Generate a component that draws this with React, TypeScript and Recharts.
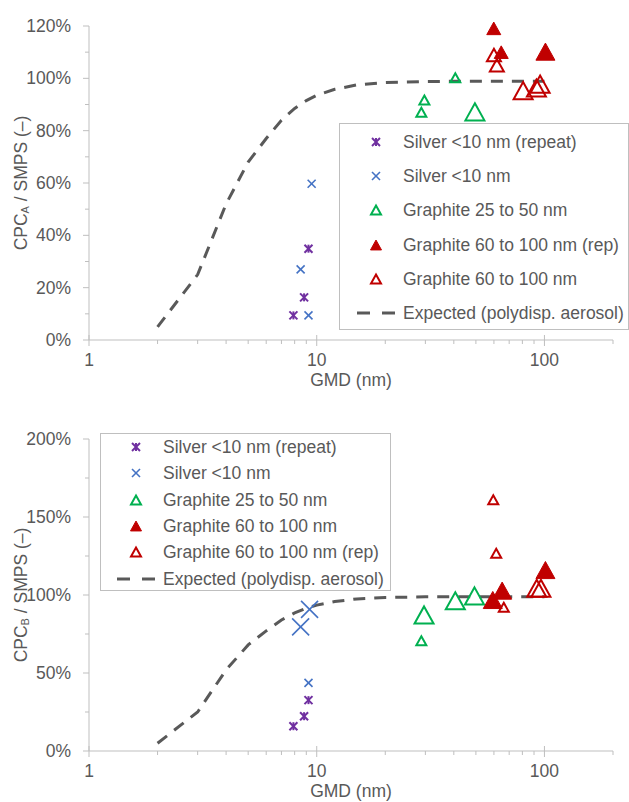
import React from 'react';
import { ScatterChart, Scatter, XAxis, YAxis, Legend, Label } from 'recharts';

const FONT = '"Liberation Sans", Arial, sans-serif';
const TEXT = '#595959';
const AXIS = '#BFBFBF';
const PURPLE = '#7030A0';
const BLUE = '#4472C4';
const GREEN = '#00B050';
const RED = '#C00000';
const GRAY = '#595959';
const FS = 17.5;

// ---- axes ----
const xTicks = [1, 2, 3, 4, 5, 6, 7, 8, 9, 10, 20, 30, 40, 50, 60, 70, 80, 90, 100, 200];
const xMajor = [1, 10, 100];
const yTicksA = [0, 10, 20, 30, 40, 50, 60, 70, 80, 90, 100, 110, 120];
const yMajorA = [0, 20, 40, 60, 80, 100, 120];
const yTicksB = [0, 25, 50, 75, 100, 125, 150, 175, 200];
const yMajorB = [0, 50, 100, 150, 200];

// ---- expected curve (polydisperse aerosol) ----
const expectedCurve = [
  { x: 2, y: 5 }, { x: 3, y: 25 }, { x: 4, y: 52 }, { x: 5, y: 68 }, { x: 6, y: 77 },
  { x: 7, y: 84 }, { x: 8, y: 88.5 }, { x: 9, y: 91.5 }, { x: 10, y: 93.5 }, { x: 12, y: 95.8 },
  { x: 15, y: 97.5 }, { x: 20, y: 98.4 }, { x: 30, y: 98.8 }, { x: 50, y: 98.9 }, { x: 100, y: 98.9 },
];

// ---- top panel: CPC_A / SMPS (z = marker weight class) ----
const silverRepeatA = [{ x: 7.9, y: 9.4, z: 1 }, { x: 8.8, y: 16.3, z: 1 }, { x: 9.2, y: 34.9, z: 1 }];
const silverA = [{ x: 9.5, y: 59.7, z: 1 }, { x: 8.5, y: 27, z: 1 }, { x: 9.2, y: 9.4, z: 1 }];
const graphite2550A = [{ x: 40.6, y: 100.2, z: 1 }, { x: 29.7, y: 91.7, z: 1 }, { x: 28.8, y: 87, z: 1 }, { x: 49.5, y: 87.2, z: 3 }];
const graphite60100RepA = [{ x: 59.9, y: 119.1, z: 2 }, { x: 64.6, y: 110, z: 2 }, { x: 101, y: 110.2, z: 3 }];
const graphite60100A = [{ x: 60, y: 108.9, z: 2 }, { x: 61.8, y: 105, z: 2 }, { x: 80.6, y: 95.3, z: 3 }, { x: 92.2, y: 96.3, z: 3 }, { x: 95.7, y: 97.8, z: 3 }];

// ---- bottom panel: CPC_B / SMPS ----
const silverRepeatB = [{ x: 7.9, y: 15.9, z: 1 }, { x: 8.8, y: 22.3, z: 1 }, { x: 9.2, y: 32.6, z: 1 }];
const silverB = [{ x: 9.2, y: 43.7, z: 1 }, { x: 8.5, y: 79.6, z: 3 }, { x: 9.3, y: 90.8, z: 3 }];
const graphite2550B = [{ x: 28.8, y: 70.7, z: 1 }, { x: 29.6, y: 87.2, z: 3 }, { x: 40.6, y: 96.3, z: 3 }, { x: 49.3, y: 99.4, z: 3 }];
const graphite60100B = [{ x: 59.3, y: 96.8, z: 3 }, { x: 65.2, y: 102.8, z: 3 }, { x: 101, y: 116, z: 3 }];
const graphite60100RepB = [{ x: 59.6, y: 161, z: 1 }, { x: 61.4, y: 126.8, z: 1 }, { x: 66.3, y: 92.1, z: 1 }, { x: 92.5, y: 104.3, z: 3 }, { x: 96.5, y: 104.3, z: 3 }];

const legendNamesA = ['Silver <10 nm (repeat)', 'Silver <10 nm', 'Graphite 25 to 50 nm', 'Graphite 60 to 100 nm (rep)', 'Graphite 60 to 100 nm', 'Expected (polydisp. aerosol)'];
const legendNamesB = ['Silver <10 nm (repeat)', 'Silver <10 nm', 'Graphite 25 to 50 nm', 'Graphite 60 to 100 nm', 'Graphite 60 to 100 nm (rep)', 'Expected (polydisp. aerosol)'];

type Kind = 'star' | 'x' | 'triOpen' | 'triFill' | 'dash';

function drawMarker(kind: Kind, color: string, cx: number, cy: number, w: number) {
  if (kind === 'star') {
    const s = w / 2;
    return (
      <g stroke={color} strokeWidth={2}>
        <line x1={cx - s} y1={cy - s} x2={cx + s} y2={cy + s} />
        <line x1={cx - s} y1={cy + s} x2={cx + s} y2={cy - s} />
        <line x1={cx} y1={cy - s} x2={cx} y2={cy + s} />
      </g>
    );
  }
  if (kind === 'x') {
    const s = w / 2;
    return (
      <g stroke={color} strokeWidth={1.6}>
        <line x1={cx - s} y1={cy - s} x2={cx + s} y2={cy + s} />
        <line x1={cx - s} y1={cy + s} x2={cx + s} y2={cy - s} />
      </g>
    );
  }
  const h = w * 0.9;
  const pts = `${cx},${cy - h / 2} ${cx + w / 2},${cy + h / 2} ${cx - w / 2},${cy + h / 2}`;
  if (kind === 'triFill') {
    return <polygon points={pts} fill={color} stroke={color} strokeWidth={1} strokeLinejoin="miter" />;
  }
  return <polygon points={pts} fill="none" stroke={color} strokeWidth={2} strokeLinejoin="miter" />;
}

const sizeFor = (kind: Kind, z: number) => {
  if (kind === 'star') return 8;
  if (kind === 'x') return z >= 3 ? 17 : 8;
  return z === 1 ? 10 : z === 2 ? 14 : 19;
};

const shapeOf = (kind: Kind, color: string) => (p: any) =>
  drawMarker(kind, color, p.cx, p.cy, sizeFor(kind, p.payload?.z ?? 1));

const XTick = (p: any) => {
  const v = p.payload.value;
  const major = xMajor.includes(v);
  return (
    <g>
      <line x1={p.x} x2={p.x} y1={major ? p.y - 5 : p.y} y2={p.y + (major ? 6 : 4)} stroke={AXIS} />
      {major && (
        <text x={p.x} y={p.y + 20} textAnchor="middle" dominantBaseline="central" fill={TEXT} fontSize={FS} fontFamily={FONT}>
          {v}
        </text>
      )}
    </g>
  );
};

const makeYTick = (majors: number[]) => (p: any) => {
  const v = p.payload.value;
  const major = majors.includes(v);
  return (
    <g>
      <line x1={p.x - (major ? 6 : 4)} x2={p.x} y1={p.y} y2={p.y} stroke={AXIS} />
      {major && (
        <text x={p.x - 18} y={p.y} textAnchor="end" dominantBaseline="central" fill={TEXT} fontSize={FS} fontFamily={FONT}>
          {`${v}%`}
        </text>
      )}
    </g>
  );
};

const yLabel = (sub: string) => (props: any) => {
  const vb = props.viewBox || { x: 0, y: 0, width: 0, height: 0 };
  const cy = vb.y + vb.height / 2;
  const cx = 21;
  return (
    <text x={cx} y={cy} transform={`rotate(-90 ${cx} ${cy})`} textAnchor="middle" dominantBaseline="central" fill={TEXT} fontSize={FS} fontFamily={FONT}>
      CPC<tspan fontSize={11} dy={4}>{sub}</tspan>
      <tspan dy={-4}> / SMPS (–)</tspan>
    </text>
  );
};

const xLabel = (props: any) => {
  const vb = props.viewBox || { x: 0, y: 0, width: 0, height: 0 };
  return (
    <text x={vb.x + vb.width / 2} y={vb.y + 40} textAnchor="middle" dominantBaseline="central" fill={TEXT} fontSize={FS} fontFamily={FONT}>
      GMD (nm)
    </text>
  );
};

type LegItem = { name: string; kind: Kind; color: string };

function LegendIcon({ item }: { item: LegItem }) {
  if (item.kind === 'dash') {
    return (
      <svg width={40} height={10} style={{ display: 'block' }}>
        <line x1={1} x2={14} y1={5} y2={5} stroke={GRAY} strokeWidth={3} />
        <line x1={26} x2={39} y1={5} y2={5} stroke={GRAY} strokeWidth={3} />
      </svg>
    );
  }
  const w = item.kind === 'star' || item.kind === 'x' ? 8 : item.kind === 'triFill' ? 11 : 10;
  return (
    <svg width={40} height={16} style={{ display: 'block' }}>
      {drawMarker(item.kind, item.color, 20, 8, w)}
    </svg>
  );
}

function LegendBox({ items, width, height, rowH, padTop, iconLeft, textLeft }: any) {
  return (
    <div
      style={{
        width,
        height,
        boxSizing: 'border-box',
        border: `1px solid ${AXIS}`,
        background: '#fff',
        paddingTop: padTop,
        fontFamily: FONT,
        fontSize: FS,
        color: TEXT,
      }}
    >
      {items.map((it: LegItem) => (
        <div key={it.name} style={{ height: rowH, display: 'flex', alignItems: 'center', position: 'relative' }}>
          <div style={{ position: 'absolute', left: iconLeft - 20 }}>
            <LegendIcon item={it} />
          </div>
          <div style={{ position: 'absolute', left: textLeft, whiteSpace: 'nowrap', lineHeight: '20px' }}>{it.name}</div>
        </div>
      ))}
    </div>
  );
}

const kindsA: { kind: Kind; color: string }[] = [
  { kind: 'star', color: PURPLE },
  { kind: 'x', color: BLUE },
  { kind: 'triOpen', color: GREEN },
  { kind: 'triFill', color: RED },
  { kind: 'triOpen', color: RED },
  { kind: 'dash', color: GRAY },
];
const kindsB: { kind: Kind; color: string }[] = [
  { kind: 'star', color: PURPLE },
  { kind: 'x', color: BLUE },
  { kind: 'triOpen', color: GREEN },
  { kind: 'triFill', color: RED },
  { kind: 'triOpen', color: RED },
  { kind: 'dash', color: GRAY },
];

const legendItemsA: LegItem[] = legendNamesA.map((n, i) => ({ name: n, ...kindsA[i] }));
const legendItemsB: LegItem[] = legendNamesB.map((n, i) => ({ name: n, ...kindsB[i] }));

const lineStyle = { stroke: GRAY, strokeWidth: 3, strokeDasharray: '12 9' };

export default function App() {
  return (
    <div style={{ position: 'absolute', left: 0, top: 0, width: 629, height: 802, background: '#fff' }}>
      <div style={{ position: 'absolute', left: 0, top: 0 }}>
        <ScatterChart width={629} height={400} margin={{ top: 26, right: 16, bottom: 30, left: 9 }}>
          <XAxis
            type="number"
            dataKey="x"
            scale="log"
            domain={[1, 200]}
            ticks={xTicks}
            interval={0}
            tickSize={0}
            tickMargin={0}
            tickLine={false}
            tick={XTick}
            axisLine={{ stroke: AXIS }}
            height={30}
          >
            <Label content={xLabel} />
          </XAxis>
          <YAxis
            type="number"
            dataKey="y"
            domain={[0, 120]}
            ticks={yTicksA}
            interval={0}
            tickSize={0}
            tickMargin={0}
            tickLine={false}
            tick={makeYTick(yMajorA)}
            axisLine={{ stroke: AXIS }}
            width={80}
          >
            <Label content={yLabel('A')} />
          </YAxis>
          <Scatter data={expectedCurve} line={lineStyle} lineType="joint" shape={() => <g />} isAnimationActive={false} />
          <Scatter data={silverRepeatA} shape={shapeOf('star', PURPLE)} isAnimationActive={false} />
          <Scatter data={silverA} shape={shapeOf('x', BLUE)} isAnimationActive={false} />
          <Scatter data={graphite2550A} shape={shapeOf('triOpen', GREEN)} isAnimationActive={false} />
          <Scatter data={graphite60100RepA} shape={shapeOf('triFill', RED)} isAnimationActive={false} />
          <Scatter data={graphite60100A} shape={shapeOf('triOpen', RED)} isAnimationActive={false} />
          <Legend
            layout="vertical"
            align="center"
            verticalAlign="middle"
            wrapperStyle={{ left: 339, top: 123, width: 290, height: 207 }}
            content={() => (
              <LegendBox items={legendItemsA} width={290} height={207} rowH={34.2} padTop={1} iconLeft={36} textLeft={63} />
            )}
          />
        </ScatterChart>
      </div>
      <div style={{ position: 'absolute', left: 0, top: 400 }}>
        <ScatterChart width={629} height={402} margin={{ top: 39, right: 16, bottom: 21, left: 9 }}>
          <XAxis
            type="number"
            dataKey="x"
            scale="log"
            domain={[1, 200]}
            ticks={xTicks}
            interval={0}
            tickSize={0}
            tickMargin={0}
            tickLine={false}
            tick={XTick}
            axisLine={{ stroke: AXIS }}
            height={30}
          >
            <Label content={xLabel} />
          </XAxis>
          <YAxis
            type="number"
            dataKey="y"
            domain={[0, 200]}
            ticks={yTicksB}
            interval={0}
            tickSize={0}
            tickMargin={0}
            tickLine={false}
            tick={makeYTick(yMajorB)}
            axisLine={{ stroke: AXIS }}
            width={80}
          >
            <Label content={yLabel('B')} />
          </YAxis>
          <Scatter data={expectedCurve} line={lineStyle} lineType="joint" shape={() => <g />} isAnimationActive={false} />
          <Scatter data={silverRepeatB} shape={shapeOf('star', PURPLE)} isAnimationActive={false} />
          <Scatter data={silverB} shape={shapeOf('x', BLUE)} isAnimationActive={false} />
          <Scatter data={graphite2550B} shape={shapeOf('triOpen', GREEN)} isAnimationActive={false} />
          <Scatter data={graphite60100B} shape={shapeOf('triFill', RED)} isAnimationActive={false} />
          <Scatter data={graphite60100RepB} shape={shapeOf('triOpen', RED)} isAnimationActive={false} />
          <Legend
            layout="vertical"
            align="center"
            verticalAlign="middle"
            wrapperStyle={{ left: 100, top: 33, width: 291, height: 158 }}
            content={() => (
              <LegendBox items={legendItemsB} width={291} height={158} rowH={26.3} padTop={0} iconLeft={35} textLeft={62} />
            )}
          />
        </ScatterChart>
      </div>
    </div>
  );
}
